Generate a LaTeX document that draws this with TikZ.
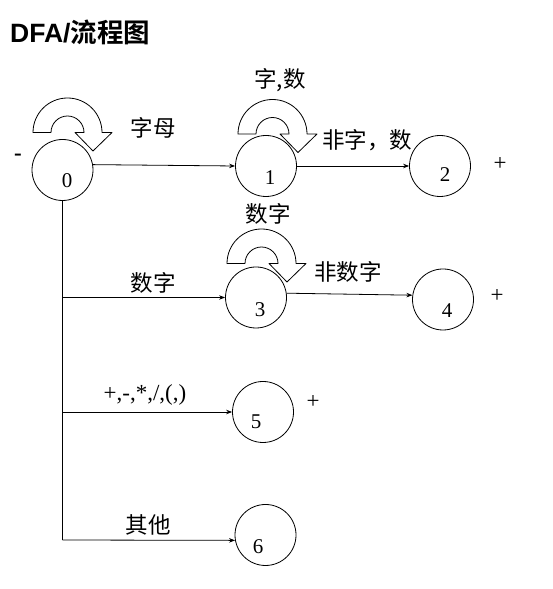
\documentclass[tikz,border=0pt]{standalone}
\usepackage{fontspec}
\setmainfont{Liberation Serif}
\newfontfamily\cjk{Noto Sans CJK SC}[BoldFont={Noto Sans CJK SC Bold}]
\newfontfamily\titlesans{Liberation Sans}
\usetikzlibrary{arrows.meta,calc}
\tikzset{
  state/.style={circle, draw, minimum size=61pt, inner sep=0pt, line width=0.8pt},
  num/.style={font=\fontsize{21}{21}\selectfont},
  zh/.style={font=\cjk\fontsize{22.5}{22.5}\selectfont, inner sep=0pt},
  sym/.style={font=\fontsize{23}{23}\selectfont, inner sep=0pt},
  edge/.style={line width=0.8pt, -{Stealth[length=6pt,width=4.5pt]}},
  plain/.style={line width=0.8pt},
  loopshape/.style={draw, fill=white, line width=0.8pt, line join=round}
}
\newcommand\dfaloop[1]{%
  \draw[loopshape] ($(#1)+(-34.5,0)$) arc[start angle=180,end angle=0,radius=34.5]
    -- ($(#1)+(44.5,0)$) -- ($(#1)+(25.5,-18.5)$) -- ($(#1)+(7.5,0)$) -- ($(#1)+(16.5,0)$)
    arc[start angle=0,end angle=180,radius=16.5] -- cycle;}
\begin{document}
\begin{tikzpicture}[x=1pt,y=1pt]
\useasboundingbox (0,0) rectangle (553,589);
% title
\node[anchor=west, inner sep=0pt, font=\fontsize{26.5}{26.5}\selectfont\bfseries] (title) at (10,557) {\titlesans DFA/\cjk\bfseries 流程图};
% loop anchors
\coordinate (c0) at (67.5,456.5);
\coordinate (c1) at (272.5,455);
\coordinate (c3) at (261.5,325.5);
\dfaloop{c0}
\dfaloop{c1}
\dfaloop{c3}
% states
\node[state, label={[num, xshift=4.5pt, yshift=-11pt]center:0}] (n0) at (62.5,419) {};
\node[state, label={[num, xshift=4pt, yshift=-12pt]center:1}] (n1) at (266,423) {};
\node[state, label={[num, xshift=5pt, yshift=-9pt]center:2}] (n2) at (440,423) {};
\node[state, label={[num, xshift=4pt, yshift=-12.5pt]center:3}] (n3) at (256,291.5) {};
\node[state, label={[num, xshift=4pt, yshift=-11.5pt]center:4}] (n4) at (443,289.5) {};
\node[state, label={[num, xshift=-7pt, yshift=-10pt]center:5}] (n5) at (263,177) {};
\node[state, label={[num, xshift=-7.5pt, yshift=-12pt]center:6}] (n6) at (265.5,54) {};
% connectors
\coordinate (corner) at (62.5,49);
\coordinate (b3) at (n0 |- n3.west);
\coordinate (b5) at (n0 |- n5.west);
\draw[plain] (n0.south) -- (corner);
\draw[edge] (n0.10) -- (n1.west);
\draw[edge] (n1.east) -- (n2.west);
\draw[edge] (b3) -- (n3.west);
\draw[edge] (n3.8) -- (n4.172);
\draw[edge] (b5) -- (n5.west);
\draw[edge] (corner) -- (n6.190);
% labels
\node[zh] (l01) at (153,461) {字母};
\node[zh] (l11) at (280,509) {字,数};
\node[zh] (l12) at (367,449) {非字，数};
\node[zh] (l33) at (268,375) {数字};
\node[zh] (l34) at (348,317) {非数字};
\node[zh] (l03) at (153,306) {数字};
\node[sym] (l05) at (145,194) {+,-,*,/,(,)};
\node[zh] (l06) at (148,64) {其他};
\node[sym] (minus) at (18,432) {\textbf{-}};
\node[sym] (p2) at (500,425) {+};
\node[sym] (p4) at (497,293) {+};
\node[sym] (p5) at (313,187) {+};
\end{tikzpicture}
\end{document}
